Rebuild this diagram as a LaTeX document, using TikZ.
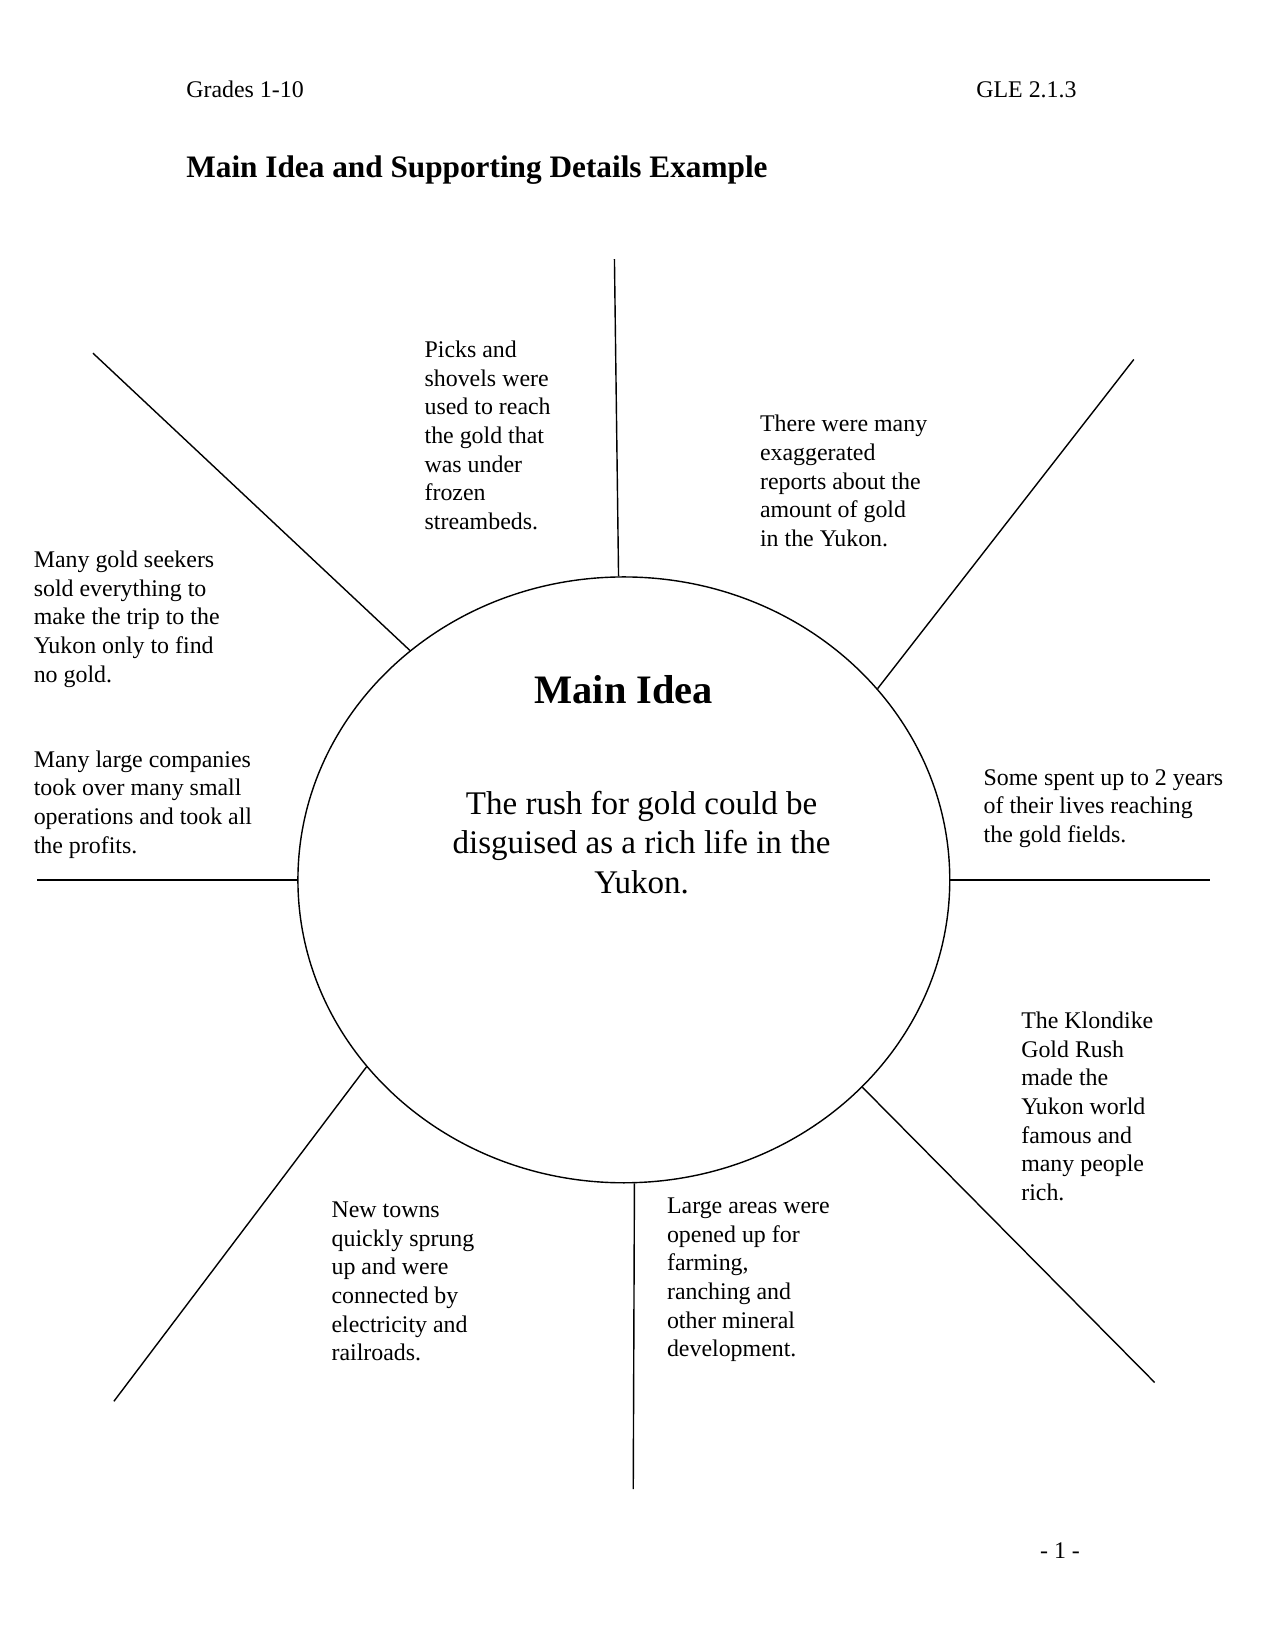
\documentclass[tikz,border=0pt]{standalone}
\usepackage{fontspec}
\setmainfont{Liberation Serif}
\usetikzlibrary{shapes.geometric}

\begin{document}
\begin{tikzpicture}[%
x=0.0209cm,
y=-0.0209cm,
spoke/.style={line width=0.8pt},
detail/.style={anchor=north west, align=left, font=\fontsize{13.6}{16.3}\selectfont, inner sep=0pt}
]
\useasboundingbox (0,0) rectangle (1220,1579);

\node[anchor=base west, inner sep=0pt, font=\fontsize{13.6}{16}\selectfont] (grades) at (178,93) {Grades 1-10};
\node[anchor=base west, inner sep=0pt, font=\fontsize{13.6}{16}\selectfont] (gle) at (934,93) {GLE 2.1.3};
\node[anchor=base west, inner sep=0pt, font=\bfseries\fontsize{17.8}{21}\selectfont] (title) at (178,170) {Main Idea and Supporting Details Example};

\node[ellipse, draw, line width=0.8pt, minimum width=13.04cm, minimum height=12.12cm] (hub) at (597,842) {};
\node[font=\bfseries\fontsize{23}{27}\selectfont] (main) at (597,660) {Main Idea};
\node[align=center, font=\fontsize{18.8}{22.5}\selectfont] (idea) at (614,806) {The rush for gold could be\\disguised as a rich life in the\\Yukon.};

\coordinate (n) at (588,248);
\coordinate (ne) at (1085,344);
\coordinate (e) at (1158,842);
\coordinate (se) at (1105,1323);
\coordinate (s) at (606,1425);
\coordinate (sw) at (109,1341);
\coordinate (w) at (35,842);
\coordinate (nw) at (89,338);

\draw[spoke] (hub.91) -- (n);
\draw[spoke] (hub.37) -- (ne);
\draw[spoke] (hub.0) -- (e);
\draw[spoke] (hub.319) -- (se);
\draw[spoke] (hub.272) -- (s);
\draw[spoke] (hub.216) -- (sw);
\draw[spoke] (hub.180) -- (w);
\draw[spoke] (hub.133) -- (nw);

\node[detail] (picks) at (406,326) {Picks and\\shovels were\\used to reach\\the gold that\\was under\\frozen\\streambeds.};
\node[detail] (reports) at (727,397) {There were many\\exaggerated\\reports about the\\amount of gold\\in the Yukon.};
\node[detail] (seekers) at (32,527) {Many gold seekers\\sold everything to\\make the trip to the\\Yukon only to find\\no gold.};
\node[detail] (companies) at (32,718) {Many large companies\\took over many small\\operations and took all\\the profits.};
\node[detail] (years) at (941,736) {Some spent up to 2 years\\of their lives reaching\\the gold fields.};
\node[detail] (klondike) at (977,968) {The Klondike\\Gold Rush\\made the\\Yukon world\\famous and\\many people\\rich.};
\node[detail] (towns) at (317,1150) {New towns\\quickly sprung\\up and were\\connected by\\electricity and\\railroads.};
\node[detail] (areas) at (638,1146) {Large areas were\\opened up for\\farming,\\ranching and\\other mineral\\development.};

\node[anchor=base west, inner sep=0pt, font=\fontsize{13.6}{16}\selectfont] (page) at (995,1491) {- 1 -};
\end{tikzpicture}
\end{document}
